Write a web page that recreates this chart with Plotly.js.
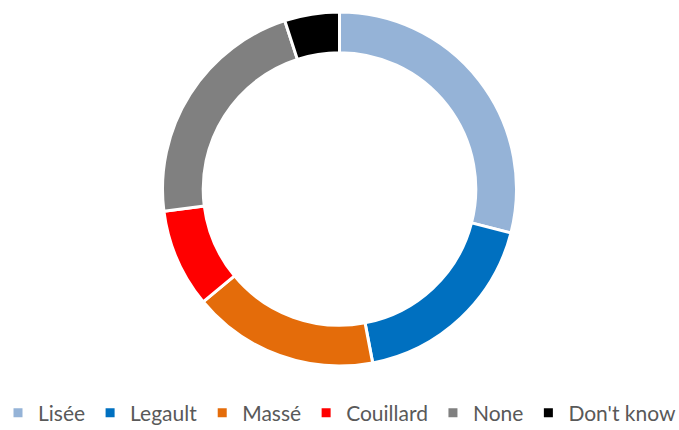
<!DOCTYPE html>
<html>
<head>
<meta charset="utf-8">
<script src="https://cdn.plot.ly/plotly-3.0.1.min.js"></script>
<style>html,body{margin:0;padding:0;background:#fff;}#chart{width:679px;height:430px;}</style>
</head>
<body>
<div id="chart"></div>
<script>
const labels = ["Lisée", "Legault", "Massé", "Couillard", "None", "Don't know"];
const values = [29, 18, 17, 9, 22, 5];
const colors = ["#95B3D7", "#0070C0", "#E46C0A", "#FF0000", "#808080", "#000000"];

const trace = {
  type: "pie",
  labels: labels,
  values: values,
  hole: 0.77,
  sort: false,
  direction: "clockwise",
  rotation: 0,
  textinfo: "none",
  hoverinfo: "label+value",
  marker: {colors: colors, line: {color: "#FFFFFF", width: 3}},
  domain: {x: [0, 1], y: [0, 1]}
};

const layout = {
  width: 679,
  height: 430,
  margin: {l: 0, r: 0, t: 12, b: 64, autoexpand: false},
  paper_bgcolor: "#FFFFFF",
  showlegend: true,
  legend: {
    orientation: "h",
    x: 0.5, xanchor: "center",
    y: -0.075, yanchor: "top",
    font: {family: "Lato, 'Open Sans', sans-serif", size: 21, color: "#595959"},
    itemwidth: 30,
    tracegroupgap: 0
  }
};

Plotly.newPlot("chart", [trace], layout, {displayModeBar: false, staticPlot: true});
</script>
</body>
</html>
